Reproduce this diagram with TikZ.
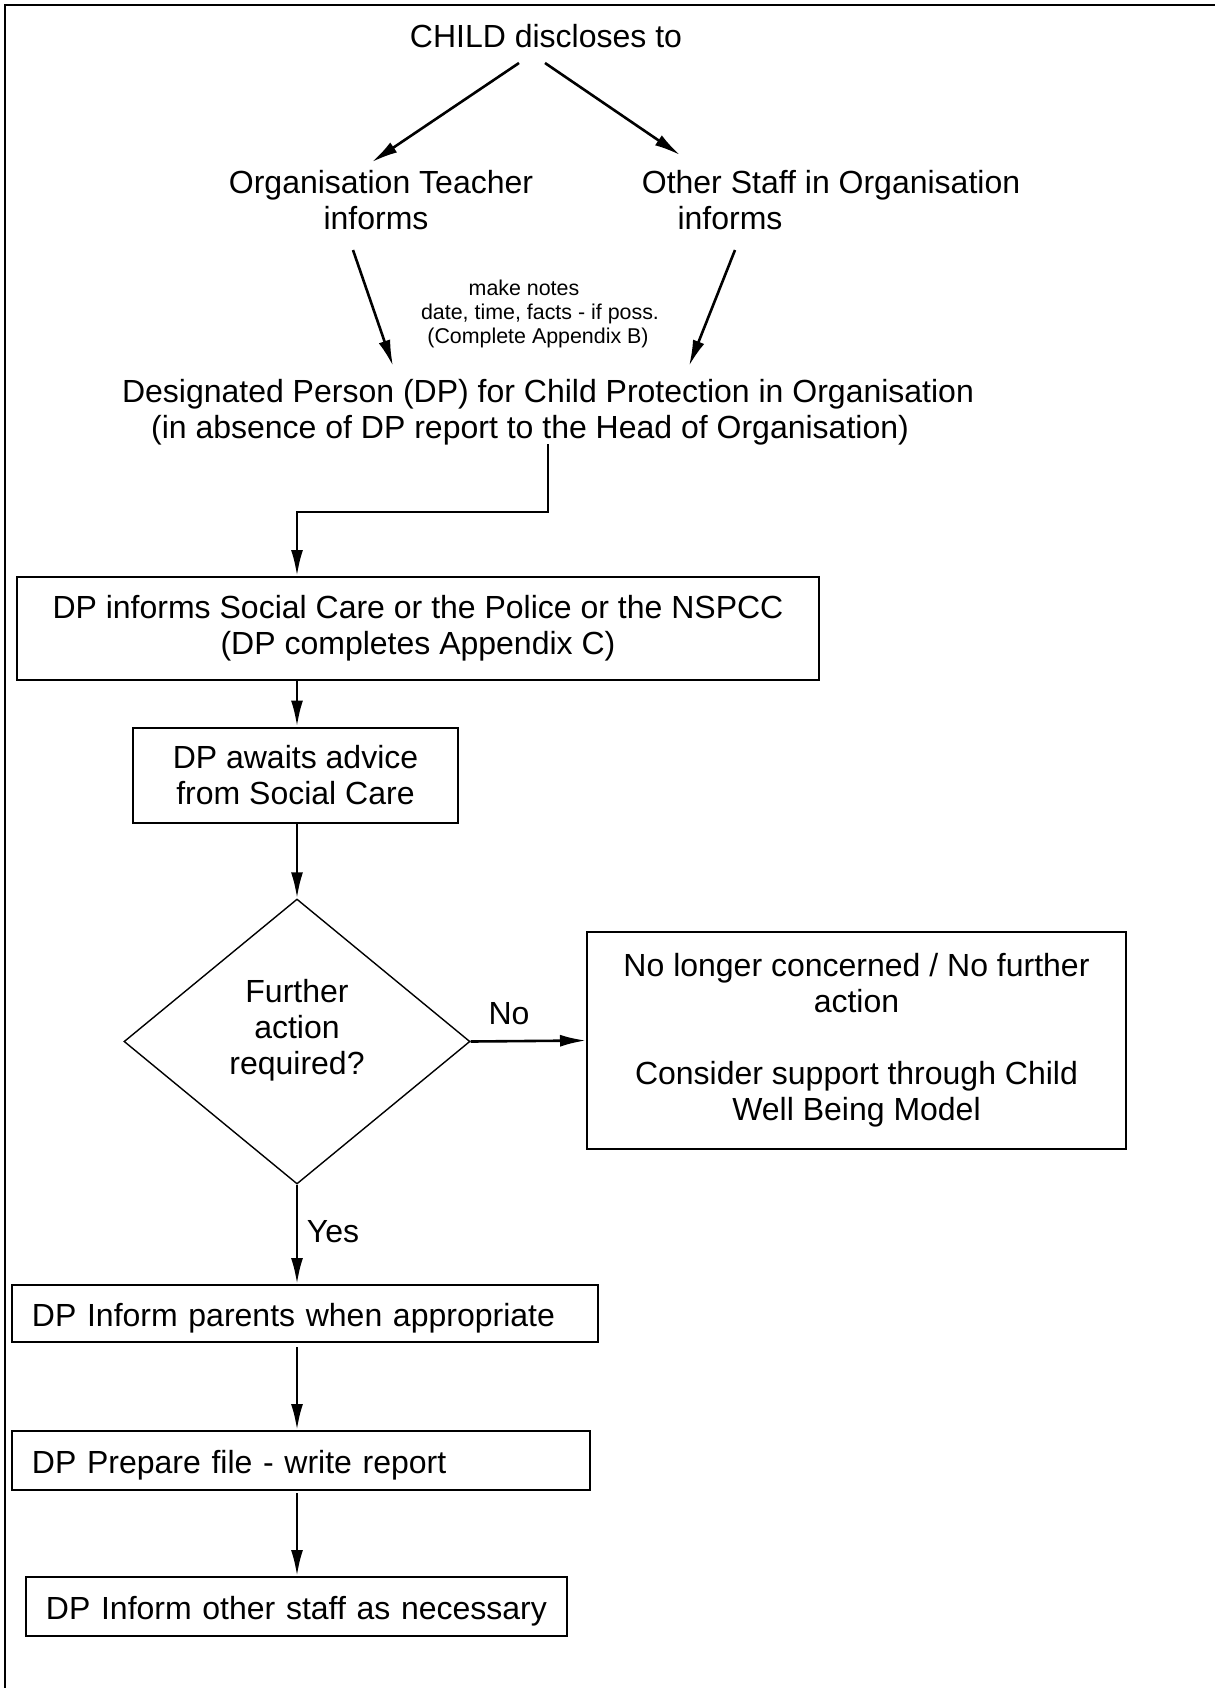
\documentclass[tikz,border=0pt]{standalone}
\usepackage{fontspec}
\setmainfont{Liberation Sans}
\usetikzlibrary{shapes.geometric,arrows.meta,calc}
\begin{document}
\begin{tikzpicture}[x=0.5pt,y=-0.5pt,
  txt/.style={font=\fontsize{16pt}{18pt}\selectfont, inner sep=0pt, anchor=base},
  small/.style={font=\fontsize{10.7pt}{12pt}\selectfont, inner sep=0pt, anchor=base},
  box/.style={draw, line width=1pt, font=\fontsize{16pt}{18pt}\selectfont, align=center, inner sep=0pt},
  lbox/.style={draw, line width=1pt, font=\fontsize{16pt}{18pt}\selectfont, align=left, inner xsep=10pt, inner ysep=0pt, text height=13.4pt, text depth=0pt},
  dia/.style={draw, line width=0.7pt, shape=diamond, inner sep=0pt, minimum width=173pt, minimum height=142.5pt},
  arr/.style={-{Latex[length=13pt,width=6pt]}, line width=1.3pt},
  frame/.style={line width=1.2pt}]
\useasboundingbox (0,0) rectangle (1215,1688);
\draw[frame] (5,1688) -- (5,5) -- (1215,5);

% free text
\node[txt] (child) at (546,47) {CHILD discloses to};
\node[txt] (teach1) at (381,193) {Organisation Teacher};
\node[txt] (teach2) at (376,229) {informs};
\node[txt] (staff1) at (831,193) {Other Staff in Organisation};
\node[txt] (staff2) at (730,229) {informs};
\node[small] (note1) at (524,295) {make notes};
\node[small] (note2) at (540,319) {date, time, facts - if poss.};
\node[small] (note3) at (538,343) {(Complete Appendix B)};
\node[txt] (dp1) at (548,402) {Designated Person (DP) for Child Protection in Organisation};
\node[txt] (dp2) at (530,438) {(in absence of DP report to the Head of Organisation)};

% boxes
\node[box, minimum width=401pt, minimum height=51.5pt] (b1) at (418,628.5)
  {DP informs Social Care or the Police or the NSPCC\\(DP completes Appendix C)};
\node[box, minimum width=162.5pt, minimum height=47.5pt] (b2) at (295.5,775)
  {DP awaits advice\\from Social Care};
\node[dia] (d) at (297,1041.5) {};
\node[txt, anchor=center, align=center] (dt) at (297,1030)
  {Further\\action\\required?};
\node[box, minimum width=269.5pt, minimum height=108.5pt] (b3) at (856.5,1040.5)
  {No longer concerned / No further\\action\\\mbox{}\\Consider support through Child\\Well Being Model};
\node[lbox, text width=273pt, minimum height=28.5pt] (b4) at (305,1313.5)
  {DP Inform parents when appropriate};
\node[lbox, text width=269pt, minimum height=29.5pt] (b5) at (301,1460.5)
  {DP Prepare file - write report};
\node[lbox, text width=250.5pt, minimum height=29.5pt] (b6) at (296.5,1606.5)
  {DP Inform other staff as necessary};

\node[txt] (no) at (509,1024) {No};
\node[txt] (yes) at (333,1242) {Yes};

% connector end points
\coordinate (c1) at (519,63);
\coordinate (c2) at (372,162);
\coordinate (c3) at (545,63);
\coordinate (c4) at (680,155);
\coordinate (t1) at (353,250);
\coordinate (t2) at (393,366);
\coordinate (s1) at (735,250);
\coordinate (s2) at (689,366);
\coordinate (e1) at (548,444);

% connectors
\draw[arr] (c1) -- (c2);
\draw[arr] (c3) -- (c4);
\draw[arr] (t1) -- (t2);
\draw[arr] (s1) -- (s2);
\draw[arr] (e1) -- ++(0,68) -| (d.north |- b1.north);
\draw[arr] (d.north |- b1.south) -- (d.north |- b2.north);
\draw[arr] (d.north |- b2.south) -- (d.north);
\draw[arr] (d.east) -- (b3.west);
\draw[arr] (d.south) -- (d.south |- b4.north);
\draw[arr, shorten <=2pt] (d.south |- b4.south) -- (d.south |- b5.north);
\draw[arr, shorten <=1pt] (d.south |- b5.south) -- (d.south |- b6.north);
\end{tikzpicture}
\end{document}
